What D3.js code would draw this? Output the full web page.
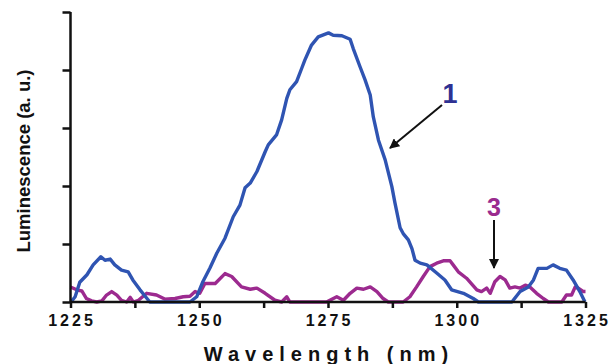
<!DOCTYPE html>
<html>
<head>
<meta charset="utf-8">
<script src="https://cdn.jsdelivr.net/npm/d3@7"></script>
<style>
  html, body { margin: 0; padding: 0; background: #fff; }
  svg { display: block; }
</style>
</head>
<body>
<svg id="chart" width="611" height="364"></svg>
<script>
// ---- data ----
const xTickValues = [1225, 1237.5, 1250, 1262.5, 1275, 1287.5, 1300, 1312.5, 1325];
const xTickLabels = ["1225", "1250", "1275", "1300", "1325"];
const yTickValues = [0, 1, 2, 3, 4, 5];

const curve1Wavelength = [1225.1,1225.9,1226.8,1228.2,1229.4,1230.9,1231.7,1232.7,1233.6,1234.9,1236.2,1237.1,1238.5,1239.5,1240.4,1245,1248.2,1249.5,1250.7,1252.1,1253.4,1255.0,1256.6,1257.9,1258.9,1259.9,1261.2,1262.8,1263.4,1265.0,1266.0,1267.0,1267.6,1268.9,1269.9,1270.5,1271.8,1273.1,1275.1,1276.0,1277.7,1279.3,1279.9,1281.2,1282.2,1283.2,1283.8,1284.8,1286.1,1287.4,1288.0,1289.0,1289.6,1290.6,1291.3,1291.9,1292.9,1294.2,1296.1,1297.7,1299.0,1301.3,1303.2,1304.2,1310.7,1312.3,1313.9,1314.9,1315.8,1317.5,1318.7,1320.0,1321.3,1322.6,1323.9,1324.9];
const curve1Value = [0,0.09,0.34,0.47,0.64,0.78,0.72,0.74,0.64,0.55,0.52,0.38,0.21,0.10,0,0,0,0.09,0.35,0.59,0.84,1.10,1.47,1.67,1.97,2.05,2.25,2.59,2.71,2.88,3.14,3.51,3.66,3.80,4.03,4.17,4.43,4.57,4.64,4.60,4.59,4.53,4.37,4.06,3.83,3.57,3.19,2.79,2.45,1.99,1.71,1.28,1.18,1.07,0.92,0.72,0.67,0.64,0.50,0.38,0.21,0.15,0.06,0,0,0.18,0.26,0.38,0.58,0.58,0.64,0.58,0.55,0.38,0.18,0];

const curve3Wavelength = [1225,1226.2,1227.2,1228.1,1229.1,1230.1,1231.1,1232.0,1233.0,1234.0,1234.9,1235.9,1236.6,1237.2,1238.2,1239.8,1241.7,1243.3,1245.3,1246.9,1248.2,1249.2,1250.1,1251.1,1253.1,1255.0,1256.3,1258.2,1259.9,1261.2,1262.8,1264.7,1266.0,1267.0,1267.6,1274.7,1276.7,1278.0,1279.3,1280.6,1281.9,1283.2,1284.5,1285.7,1286.7,1289.6,1290.9,1292.2,1293.5,1294.8,1296.1,1297.4,1298.7,1299.3,1300.3,1301.9,1303.9,1304.8,1305.8,1306.5,1307.4,1308.4,1309.4,1310.3,1311.3,1312.3,1313.3,1314.2,1315.5,1316.8,1317.8,1320.4,1321.3,1322.3,1323.0,1323.6,1324.6,1325];
const curve3Value = [0.26,0.21,0.19,0.06,0.02,0,0.02,0.12,0.18,0.12,0.03,0,0.08,0,0.03,0.15,0.12,0.05,0.06,0.09,0.10,0.18,0.15,0.32,0.32,0.49,0.44,0.26,0.22,0.24,0.15,0.03,0,0.09,0,0,0.09,0.03,0.15,0.24,0.22,0.26,0.18,0.06,0,0,0.09,0.26,0.44,0.61,0.67,0.71,0.71,0.64,0.52,0.41,0.21,0.18,0.24,0.15,0.35,0.44,0.38,0.24,0.26,0.24,0.29,0.26,0.15,0.06,0,0,0.12,0.12,0.26,0.24,0.18,0.18];

const labels = ["1", "3"];
const xTitle = "Wavelength (nm)";
const yTitle = "Luminescence (a. u.)";

// ---- drawing ----
const svg = d3.select("#chart");
const x = d3.scaleLinear().domain([1225, 1325]).range([70.5, 585.5]);
const y = d3.scaleLinear().domain([0, 5]).range([302, 12]);

const blue = "#2f54b2", magenta = "#9c2a8f";

const line = d3.line().x(d => x(d[0])).y(d => y(d[1]));
const s1 = curve1Wavelength.map((w, i) => [w, curve1Value[i]]);
const s3 = curve3Wavelength.map((w, i) => [w, curve3Value[i]]);

svg.append("path").datum(s3).attr("d", line)
  .attr("fill", "none").attr("stroke", magenta).attr("stroke-width", 3.4).attr("stroke-linejoin", "round");
svg.append("path").datum(s1).attr("d", line)
  .attr("fill", "none").attr("stroke", blue).attr("stroke-width", 3.4).attr("stroke-linejoin", "round");

// axes
const xAxis = d3.axisBottom(x).tickValues(xTickValues).tickSize(6).tickFormat(() => "");
const gx = svg.append("g").attr("transform", `translate(0,${y(0)})`).call(xAxis);
gx.select(".domain").attr("stroke", "#111").attr("stroke-width", 2.5).attr("d", `M${x(1225)},0H${x(1325)}`);
gx.selectAll(".tick line").attr("stroke", "#111").attr("stroke-width", 2.5);

const yAxis = d3.axisLeft(y).tickValues(yTickValues).tickSize(8).tickFormat(() => "");
const gy = svg.append("g").attr("transform", `translate(${x(1225)},0)`).call(yAxis);
gy.select(".domain").attr("stroke", "#111").attr("stroke-width", 2.5).attr("d", `M0,${y(0)}V${y(5)}`);
gy.selectAll(".tick line").attr("stroke", "#111").attr("stroke-width", 2.5);

// x tick labels (letter-spaced)
svg.append("g").selectAll("text").data(xTickLabels).join("text")
  .attr("x", d => x(+d) + 1.5).attr("y", 326)
  .attr("text-anchor", "middle")
  .attr("font-family", "Liberation Sans, Arial, sans-serif")
  .attr("font-weight", "bold").attr("font-size", 16)
  .attr("letter-spacing", 3)
  .attr("fill", "#111")
  .text(d => d);

// axis titles
svg.append("text")
  .attr("x", 329).attr("y", 361)
  .attr("text-anchor", "middle")
  .attr("font-family", "Liberation Sans, Arial, sans-serif")
  .attr("font-weight", "bold").attr("font-size", 20)
  .attr("letter-spacing", 6)
  .attr("fill", "#111")
  .text(xTitle);

svg.append("text")
  .attr("transform", "translate(30,161) rotate(-90)")
  .attr("text-anchor", "middle")
  .attr("font-family", "Liberation Sans, Arial, sans-serif")
  .attr("font-weight", "bold").attr("font-size", 18.5)
  .attr("fill", "#111")
  .text(yTitle);

// annotations
const defs = svg.append("defs");
defs.append("marker").attr("id", "ah").attr("viewBox", "0 0 10 10")
  .attr("refX", 9).attr("refY", 5).attr("markerWidth", 5).attr("markerHeight", 5)
  .attr("markerUnits", "strokeWidth").attr("orient", "auto")
  .append("path").attr("d", "M0,0L10,5L0,10z").attr("fill", "#111");

svg.append("text").attr("x", 450).attr("y", 103).attr("text-anchor", "middle")
  .attr("font-family", "Liberation Sans, Arial, sans-serif").attr("font-weight", "bold")
  .attr("font-size", 27).attr("fill", "#2e3192").text(labels[0]);
svg.append("line").attr("x1", 442).attr("y1", 105).attr("x2", 390).attr("y2", 148)
  .attr("stroke", "#111").attr("stroke-width", 2).attr("marker-end", "url(#ah)");

svg.append("text").attr("x", 494).attr("y", 216).attr("text-anchor", "middle")
  .attr("font-family", "Liberation Sans, Arial, sans-serif").attr("font-weight", "bold")
  .attr("font-size", 25).attr("fill", "#9a2b8e").text(labels[1]);
svg.append("line").attr("x1", 494).attr("y1", 220).attr("x2", 494).attr("y2", 268)
  .attr("stroke", "#111").attr("stroke-width", 2).attr("marker-end", "url(#ah)");
</script>
</body>
</html>
